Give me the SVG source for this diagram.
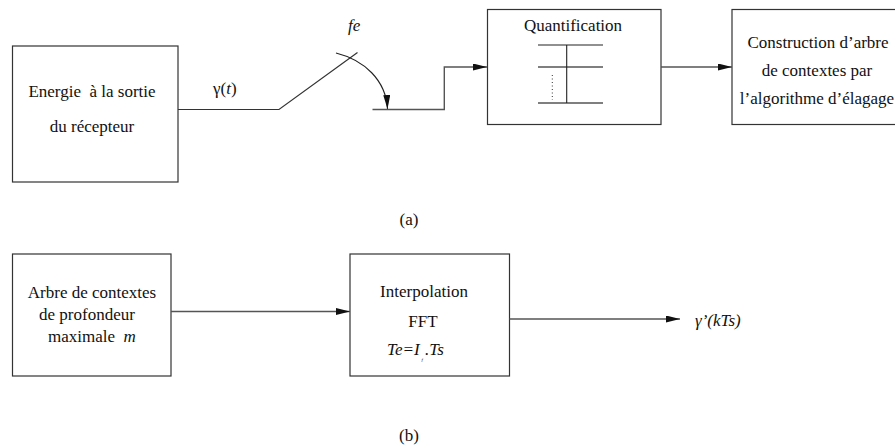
<svg xmlns="http://www.w3.org/2000/svg" width="895" height="447" viewBox="0 0 895 447">
<style>
.box{fill:#fff;stroke:#333;stroke-width:1.2}
.ln{fill:none;stroke:#555;stroke-width:1.4}
.dk{fill:none;stroke:#222;stroke-width:1.1}
text{font-family:'Liberation Serif','Times New Roman',Tinos,'DejaVu Serif',serif;font-size:17px;fill:#111}
.c{text-anchor:middle}
.i{font-style:italic}
</style>
<defs>
<marker id="ah" markerUnits="userSpaceOnUse" markerWidth="14" markerHeight="7" refX="14" refY="3.5" orient="auto">
<path d="M0,0 L14,3.5 L0,7 z" fill="#111"/>
</marker>
</defs>
<rect width="895" height="447" fill="#fff"/>
<g id="n-energie">
<rect class="box" x="12.5" y="46" width="165.5" height="136"/>
<text x="92" y="97" class="c" xml:space="preserve">Energie  à la sortie</text>
<text x="92" y="132" class="c">du récepteur</text>
</g>
<g id="n-quantif">
<rect class="box" x="487.5" y="9.5" width="173.5" height="115"/>
<text x="573" y="31" class="c">Quantification</text>
<line class="dk" x1="538" y1="45" x2="603" y2="45"/>
<line class="ln" x1="538" y1="67" x2="603" y2="67"/>
<line class="ln" x1="538" y1="103" x2="603" y2="103"/>
<line class="dk" x1="566.7" y1="45" x2="566.7" y2="103"/>
<line x1="552.3" y1="75" x2="552.3" y2="100" stroke="#333" stroke-width="1" stroke-dasharray="1,2.5"/>
</g>
<g id="n-construction">
<rect class="box" x="732" y="9.5" width="175" height="115"/>
<text x="818" y="48" class="c">Construction d’arbre</text>
<text x="817" y="76" class="c">de contextes par</text>
<text x="817" y="104" class="c">l’algorithme d’élagage</text>
</g>
<g id="n-arbre">
<rect class="box" x="12.5" y="254" width="158.5" height="122"/>
<text x="92" y="298" class="c">Arbre de contextes</text>
<text x="87" y="320" class="c">de profondeur</text>
<text x="48" y="342" xml:space="preserve">maximale  <tspan class="i">m</tspan></text>
</g>
<g id="n-interp">
<rect class="box" x="350" y="254" width="159.5" height="122"/>
<text x="424" y="297" class="c">Interpolation</text>
<text x="423" y="327" class="c">FFT</text>
<text x="387" y="355" class="i">Te=I</text>
<text x="421.5" y="361" class="i" style="font-size:5px">f</text>
<text x="425" y="355" class="i">.Ts</text>
</g>
<g id="connectors">
<polyline class="ln" points="178,109.5 279,109.5 357.5,52.5" style="stroke:#333;stroke-width:1.2"/>
<path class="dk" d="M336,53 C364,60 386,80 387.5,109" marker-end="url(#ah)"/>
<polyline class="ln" points="372.5,109.5 444.3,109.5 444.3,67 487,67" marker-end="url(#ah)"/>
<line class="ln" x1="661" y1="67" x2="732" y2="67" marker-end="url(#ah)"/>
<line class="ln" x1="171" y1="311.5" x2="350" y2="311.5" marker-end="url(#ah)"/>
<line class="ln" x1="509.5" y1="319" x2="680" y2="319" marker-end="url(#ah)"/>
</g>
<g id="labels">
<text x="348" y="31" class="i">fe</text>
<text x="213" y="94">γ(<tspan class="i">t</tspan>)</text>
<text x="695" y="326" class="i">γ’(kTs)</text>
<text x="409" y="225" class="c">(a)</text>
<text x="409" y="441" class="c">(b)</text>
</g>
</svg>
